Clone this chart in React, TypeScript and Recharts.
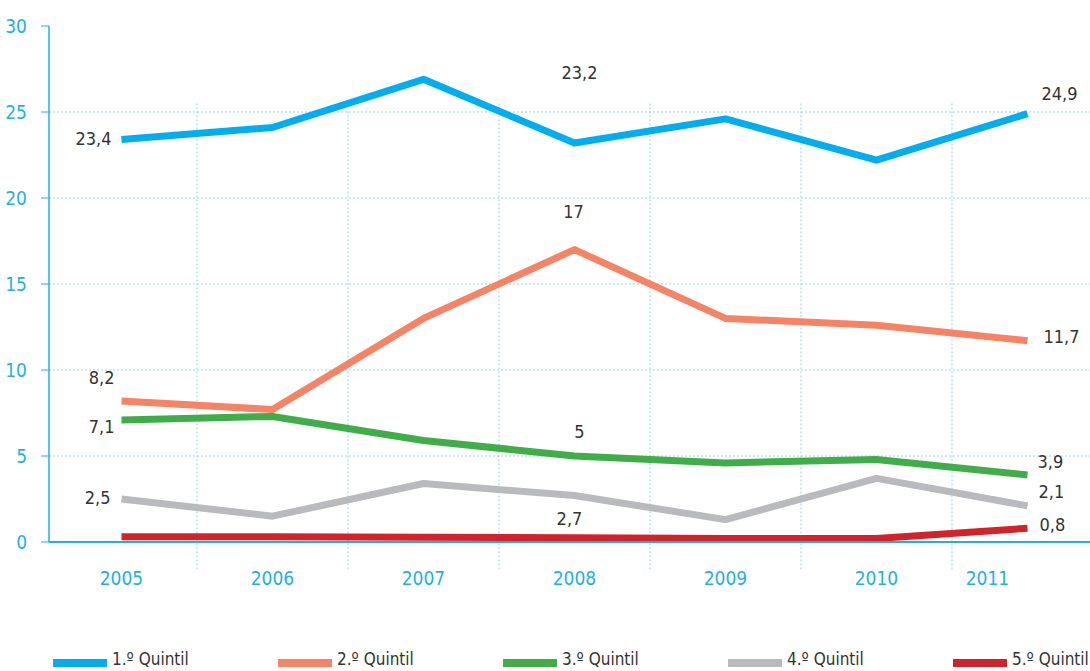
import React from 'react';
import { LineChart, Line, XAxis, YAxis, CartesianGrid, ReferenceLine, LabelList, Legend } from 'recharts';

const years = ['2005', '2006', '2007', '2008', '2009', '2010', '2011'];
const q1 = [23.4, 24.1, 26.9, 23.2, 24.6, 22.2, 24.9];
const q2 = [8.2, 7.7, 13.0, 17, 13.0, 12.6, 11.7];
const q3 = [7.1, 7.3, 5.9, 5, 4.6, 4.8, 3.9];
const q4 = [2.5, 1.5, 3.4, 2.7, 1.3, 3.7, 2.1];
const q5 = [0.3, 0.3, 0.27, 0.25, 0.2, 0.2, 0.8];
const seriesNames = ['1.º Quintil', '2.º Quintil', '3.º Quintil', '4.º Quintil', '5.º Quintil'];
const yTicks = [0, 5, 10, 15, 20, 25, 30];
const gridY = [5, 10, 15, 20, 25];
const gridX = [0.5, 1.5, 2.5, 3.5, 4.5, 5.5];

const COLORS = ['#00aeef', '#f58466', '#3fae49', '#b9babd', '#d2232a'];
const AXIS = '#1fb0e8';
const GRID = '#8fd6f2';
const FONT = "'Liberation Sans Narrow', 'DejaVu Sans Condensed', 'Roboto', sans-serif";
const TXT = '#333333';

const data = years.map((y, i) => ({ i, year: y, q1: q1[i], q2: q2[i], q3: q3[i], q4: q4[i], q5: q5[i] }));

type LC = { dx: number; dy: number; anchor: 'start' | 'middle' | 'end' };
const labelCfg: Record<string, Record<number, LC>> = {
  q1: { 0: { dx: -10, dy: -1, anchor: 'end' }, 3: { dx: 5, dy: -70, anchor: 'middle' }, 6: { dx: 14, dy: -20, anchor: 'start' } },
  q2: { 0: { dx: -7, dy: -23, anchor: 'end' }, 3: { dx: -1, dy: -38, anchor: 'middle' }, 6: { dx: 16, dy: -4, anchor: 'start' } },
  q3: { 0: { dx: -7, dy: 7, anchor: 'end' }, 3: { dx: 5, dy: -25, anchor: 'middle' }, 6: { dx: 10, dy: -13, anchor: 'start' } },
  q4: { 0: { dx: -11, dy: -2, anchor: 'end' }, 3: { dx: -5, dy: 23, anchor: 'middle' }, 6: { dx: 11, dy: -14, anchor: 'start' } },
  q5: { 6: { dx: 12, dy: -4, anchor: 'start' } },
};

const fmt = (v: number) => String(v).replace('.', ',');

const makeLabel = (key: string) => (props: any) => {
  const { x, y, index, value } = props;
  const c = labelCfg[key][index];
  if (!c) return null;
  return (
    <text x={x + c.dx} y={y + c.dy} textAnchor={c.anchor} dominantBaseline="central"
      fill={TXT} fontSize={18} fontFamily={FONT}>{fmt(value)}</text>
  );
};

const XTick = (props: any) => {
  const { x, y, payload, index } = props;
  const shift = index === years.length - 1 ? -40 : 0;
  return (
    <text x={x + shift} y={y} dy="0.71em" textAnchor="middle" fill={AXIS} fontSize={19} fontFamily={FONT}>
      {years[payload.value]}
    </text>
  );
};

const LegendContent = () => (
  <div style={{ position: 'relative', width: 1090, height: 30, fontFamily: FONT }}>
    {seriesNames.map((n, k) => (
      <div key={n} style={{ position: 'absolute', left: 53 + 225 * k, top: 0, display: 'flex', alignItems: 'center', whiteSpace: 'nowrap' }}>
        <div style={{ width: 54, height: 8, background: COLORS[k], marginTop: 8 }} />
        <span style={{ marginLeft: 5, fontSize: 17, color: TXT, lineHeight: '30px' }}>{n}</span>
      </div>
    ))}
  </div>
);

const keys = ['q1', 'q2', 'q3', 'q4', 'q5'];

export default function App() {
  return (
    <div style={{ position: 'absolute', left: 0, top: 0, width: 1090, height: 671, overflow: 'hidden', background: '#fff' }}>
      <LineChart width={1090} height={671} data={data} margin={{ top: 26, right: 0, left: 0, bottom: 69 }}>
        <CartesianGrid vertical={false} horizontalValues={gridY} stroke={GRID} strokeDasharray="2 2" />
        {gridX.map((g) => (
          <ReferenceLine key={g} segment={[{ x: g, y: 25.5 }, { x: g, y: -1.6 }]} ifOverflow="visible"
            stroke={GRID} strokeDasharray="2 2" />
        ))}
        <XAxis dataKey="i" type="number" domain={[-0.48, 6.414]} ticks={[0, 1, 2, 3, 4, 5, 6]} allowDataOverflow
          height={60} axisLine={{ stroke: AXIS, strokeWidth: 2 }} tickLine={false} tickSize={0} tickMargin={30}
          tick={<XTick />} interval={0} />
        <YAxis type="number" domain={[0, 30]} ticks={yTicks} width={49} interval={0}
          axisLine={{ stroke: AXIS, strokeWidth: 1.5 }} tickLine={{ stroke: AXIS }} tickSize={8} tickMargin={14}
          tick={{ fill: AXIS, fontSize: 19, fontFamily: FONT }} />
        {keys.map((k, idx) => (
          <Line key={k} dataKey={k} name={seriesNames[idx]} stroke={COLORS[idx]} strokeWidth={7}
            strokeLinejoin="round" strokeLinecap="butt" dot={false} activeDot={false} isAnimationActive={false}>
            <LabelList dataKey={k} content={makeLabel(k)} />
          </Line>
        ))}
        <Legend layout="vertical" verticalAlign="middle" align="center" content={<LegendContent />}
          wrapperStyle={{ top: 644, left: 0, width: 1090, height: 30 }} />
      </LineChart>
    </div>
  );
}
